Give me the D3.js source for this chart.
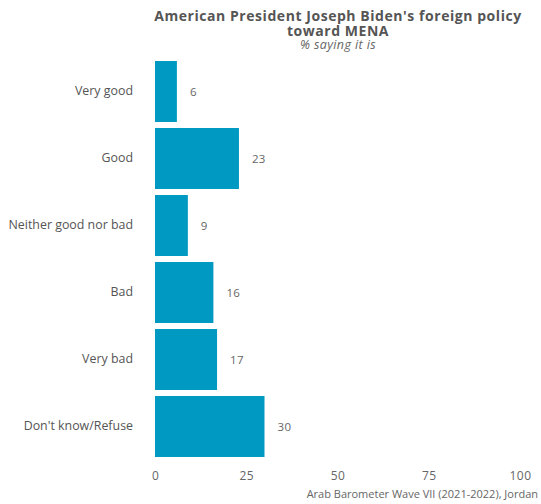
<!DOCTYPE html>
<html><head><meta charset="utf-8">
<script src="https://cdn.jsdelivr.net/npm/d3@7"></script>
<style>body{margin:0;background:#fff}svg{display:block}text{font-family:"Open Sans",sans-serif}</style>
</head><body>
<svg id="c" width="541" height="504"></svg>
<script>
const categories = ["Very good","Good","Neither good nor bad","Bad","Very bad","Don't know/Refuse"];
const values = [6,23,9,16,17,30];
const tickValues = [0,25,50,75,100];

const svg = d3.select("#c");
const x = d3.scaleLinear().domain([0,100]).range([155,520]);
const y = d3.scaleBand().domain(categories).range([58,460]).paddingInner(0.09).paddingOuter(0.045);

svg.selectAll("rect.bar").data(categories).join("rect")
  .attr("class","bar")
  .attr("x",x(0)).attr("y",d=>y(d))
  .attr("width",(d,i)=>x(values[i])-x(0)).attr("height",y.bandwidth())
  .attr("fill","#0099c1");

svg.selectAll("text.val").data(categories).join("text")
  .attr("class","val")
  .attr("x",(d,i)=>x(values[i])+13).attr("y",d=>y(d)+y.bandwidth()/2)
  .attr("dy","0.35em").attr("font-size",11.5).attr("fill","#666").attr("letter-spacing",0.3)
  .text((d,i)=>values[i]);

const ya = d3.axisLeft(y).tickSize(0).tickPadding(0);
svg.append("g").attr("transform","translate(133,0)").call(ya)
  .call(g=>g.select(".domain").remove())
  .selectAll("text").attr("font-size",12.4).attr("fill","#555").attr("font-family","Open Sans");

const xa = d3.axisBottom(x).tickValues(tickValues).tickSize(0).tickPadding(0);
svg.append("g").attr("transform","translate(0,471)").call(xa)
  .call(g=>g.select(".domain").remove())
  .selectAll("text").attr("font-size",12).attr("fill","#666").attr("font-family","Open Sans").attr("letter-spacing",0.4);

svg.append("text").attr("x",338).attr("y",21).attr("text-anchor","middle")
  .attr("font-size",14).attr("font-weight","bold").attr("fill","#555").attr("letter-spacing",0.55)
  .text("American President Joseph Biden's foreign policy");
svg.append("text").attr("x",338).attr("y",36).attr("text-anchor","middle")
  .attr("font-size",14).attr("font-weight","bold").attr("fill","#555").attr("letter-spacing",0.55)
  .text("toward MENA");
svg.append("text").attr("x",338).attr("y",48.5).attr("text-anchor","middle")
  .attr("font-size",12.5).attr("font-style","italic").attr("fill","#666").attr("letter-spacing",0.4)
  .text("% saying it is");
svg.append("text").attr("x",538).attr("y",498).attr("text-anchor","end")
  .attr("font-size",11).attr("fill","#666")
  .text("Arab Barometer Wave VII (2021-2022), Jordan");
</script>
</body></html>
